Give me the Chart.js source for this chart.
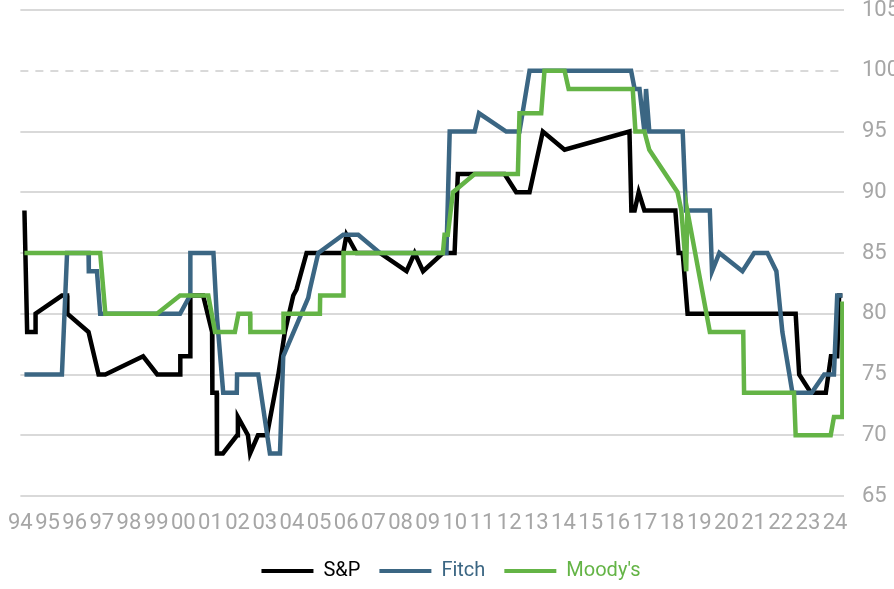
<!DOCTYPE html>
<html>
<head>
<meta charset="utf-8">
<script src="https://cdn.jsdelivr.net/npm/chart.js@4.4.1/dist/chart.umd.min.js"></script>
<style>
  html, body { margin: 0; padding: 0; background: #fff; }
  #wrap { width: 894px; height: 589px; }
</style>
</head>
<body>
<div id="wrap"><canvas id="ratings"></canvas></div>
<script>
// rating scores, x = year (decimal)
var spYears = [1994.15, 1994.25, 1994.55, 1994.56, 1995.53, 1995.72, 1995.73, 1996.51, 1996.88, 1997.13,
  1998.52, 1999.04, 1999.88, 1999.89, 2000.25, 2000.26, 2000.73, 2001.06, 2001.07, 2001.23, 2001.24,
  2001.46, 2001.98, 2002.01, 2002.38, 2002.46, 2002.75, 2003.08, 2003.5, 2003.74, 2004.05, 2004.17,
  2004.54, 2005.89, 2006.01, 2006.38, 2007.24, 2008.22, 2008.52, 2008.83, 2009.56, 2009.99, 2010.11,
  2011.83, 2012.26, 2012.75, 2013.24, 2014.04, 2016.43, 2016.5, 2016.62, 2016.77, 2016.98, 2018.12,
  2018.24, 2018.39, 2018.57, 2022.55, 2022.68, 2023.11, 2023.66, 2023.85, 2024.08, 2024.15, 2024.27];
var spValues = [88.5, 78.5, 78.5, 80, 81.5, 81.5, 80, 78.5, 75, 75,
  76.5, 75, 75, 76.5, 76.5, 81.5, 81.5, 78.5, 73.5, 73.5, 68.5,
  68.5, 70, 71.5, 70, 68.5, 70, 70, 75, 78.5, 81.5, 82,
  85, 85, 86.5, 85, 85, 83.5, 85, 83.5, 85, 85, 91.5,
  91.5, 90, 90, 95, 93.5, 95, 88.5, 88.5, 90, 88.5, 88.5,
  85, 85, 80, 80, 75, 73.5, 73.5, 76.5, 76.5, 81.5, 81.5];

var fitchYears = [1994.15, 1995.53, 1995.72, 1996.51, 1996.52, 1996.82, 1996.94, 1999.88, 2000.25, 2000.26,
  2001.11, 2001.23, 2001.47, 2001.97, 2001.98, 2002.76, 2003.19, 2003.56, 2003.68, 2004.6, 2004.66,
  2004.97, 2005.89, 2006.44, 2007.24, 2009.69, 2009.81, 2010.73, 2010.89, 2011.89, 2012.38, 2012.75,
  2016.49, 2016.62, 2016.8, 2016.98, 2017.04, 2017.16, 2018.39, 2018.51, 2019.39, 2019.47, 2019.74,
  2020.59, 2021.02, 2021.51, 2021.84, 2022.06, 2022.43, 2023.14, 2023.6, 2023.96, 2024.08, 2024.27];
var fitchValues = [75, 75, 85, 85, 83.5, 83.5, 80, 80, 81.5, 85,
  85, 80, 73.5, 73.5, 75, 75, 68.5, 68.5, 76.5, 81.3, 82,
  85, 86.5, 86.5, 85, 85, 95, 95, 96.5, 95, 95, 100,
  100, 98.5, 98.5, 95, 98.5, 95, 95, 88.5, 88.5, 83.5, 85,
  83.5, 85, 85, 83.5, 78.5, 73.5, 73.5, 75, 75, 81.5, 81.5];

var moodysYears = [1994.15, 1996.94, 1997.13, 1999.03, 1999.88, 2000.92, 2001.17, 2001.9, 2002.03, 2002.46,
  2002.47, 2003.68, 2003.69, 2005.03, 2005.04, 2005.89, 2005.9, 2009.56, 2009.62, 2009.74, 2009.93,
  2010.73, 2012.32, 2012.38, 2013.18, 2013.3, 2014.04, 2014.19, 2016.55, 2016.65, 2016.98, 2017.16,
  2018.2, 2018.34, 2018.52, 2018.56, 2019.39, 2020.62, 2020.65, 2022.49, 2022.55, 2023.84, 2023.96,
  2024.26, 2024.27];
var moodysValues = [85, 85, 80, 80, 81.5, 81.5, 78.5, 78.5, 80, 80,
  78.5, 78.5, 80, 80, 81.5, 81.5, 85, 85, 86.5, 86.5, 90,
  91.5, 91.5, 96.5, 96.5, 100, 100, 98.5, 98.5, 95, 95, 93.5,
  90, 88.5, 83.5, 88.5, 78.5, 78.5, 73.5, 73.5, 70, 70, 71.5,
  71.5, 81];

var tickLabels = ['94', '95', '96', '97', '98', '99', '00', '01', '02', '03', '04', '05', '06', '07', '08',
  '09', '10', '11', '12', '13', '14', '15', '16', '17', '18', '19', '20', '21', '22', '23', '24'];

function pts(xs, ys) {
  return xs.map(function(x, i) { return { x: x, y: ys[i] }; });
}

var grey = '#a6a6a6';

new Chart(document.getElementById('ratings'), {
  type: 'line',
  data: {
    datasets: [
      { label: 'S&P', data: pts(spYears, spValues), borderColor: '#000000', backgroundColor: '#000000', order: 3 },
      { label: 'Fitch', data: pts(fitchYears, fitchValues), borderColor: '#3b6683', backgroundColor: '#3b6683', order: 2 },
      { label: "Moody's", data: pts(moodysYears, moodysValues), borderColor: '#64b446', backgroundColor: '#64b446', order: 1 }
    ]
  },
  options: {
    responsive: true,
    maintainAspectRatio: false,
    animation: false,
    layout: { padding: { left: 8, top: 10, right: 0, bottom: -2 } },
    elements: {
      line: { borderWidth: 4.5, tension: 0, fill: false },
      point: { radius: 0, hoverRadius: 0 }
    },
    scales: {
      x: {
        type: 'linear',
        min: 1994,
        max: 2024.33,
        grid: { display: false },
        border: { display: false },
        ticks: {
          stepSize: 1,
          includeBounds: false,
          autoSkip: false,
          maxRotation: 0,
          padding: 8,
          color: grey,
          font: { family: 'Roboto', size: 22, lineHeight: 1.0 },
          callback: function(v) {
            return Number.isInteger(v) ? tickLabels[v - 1994] : '';
          }
        }
      },
      y: {
        position: 'right',
        min: 65,
        max: 105,
        afterFit: function(s) { s.width = 50; s.paddingTop = 0; s.paddingBottom = 0; },
        grid: { color: '#d9d9d9', lineWidth: 2, drawTicks: false },
        border: {
          display: false,
          dash: function(ctx) { return ctx.tick && ctx.tick.value === 100 ? [8, 7] : []; }
        },
        ticks: {
          stepSize: 5,
          padding: 18,
          color: grey,
          font: { family: 'Roboto', size: 22 }
        }
      }
    },
    plugins: {
      tooltip: { enabled: false },
      legend: {
        position: 'bottom',
        labels: {
          boxWidth: 52,
          boxHeight: 4,
          padding: 19,
          font: { family: 'Roboto', size: 20 },
          sort: function(a, b) { return a.datasetIndex - b.datasetIndex; },
          generateLabels: function(chart) {
            var items = Chart.defaults.plugins.legend.labels.generateLabels(chart);
            items.forEach(function(it) { it.fontColor = it.strokeStyle; it.lineWidth = 0; });
            return items;
          }
        }
      }
    }
  }
});
</script>
</body>
</html>
